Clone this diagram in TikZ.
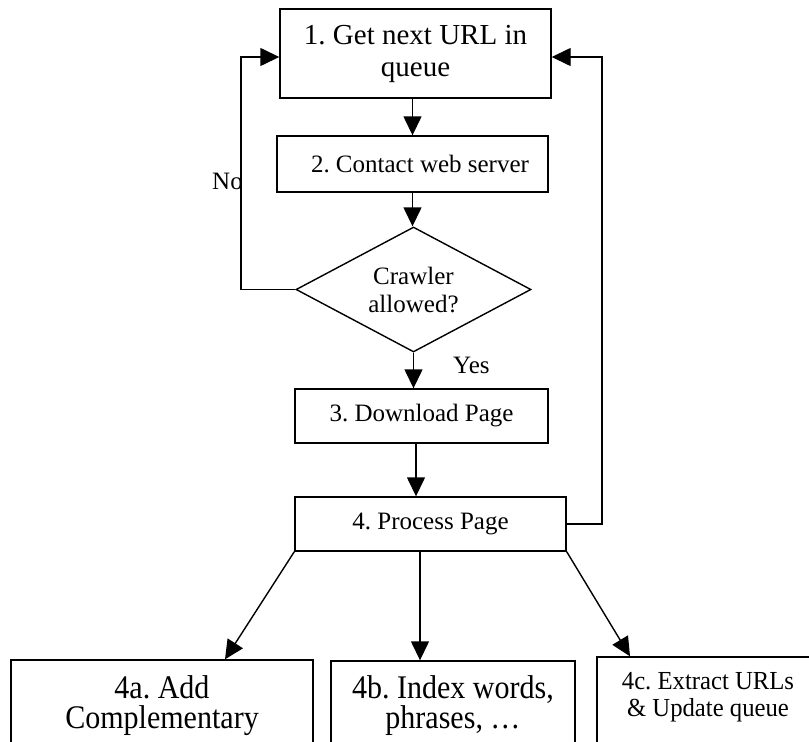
\documentclass[tikz,border=0pt]{standalone}
\usepackage{fontspec}
\setmainfont{Liberation Serif}
\newfontfamily\condA[FakeStretch=0.91]{Liberation Serif}
\newfontfamily\condC[FakeStretch=0.95]{Liberation Serif}
\usetikzlibrary{arrows.meta,shapes.geometric}
\frenchspacing
\begin{document}
\begin{tikzpicture}[x=1pt,y=-1pt,
  box/.style={draw, line width=1.4pt, rectangle, inner sep=0pt, align=center},
  arr/.style={line width=1.4pt, -{Triangle[length=19pt,width=18pt]}},
  txt/.style={inner sep=0pt, align=center},
  fmid/.style={font=\fontsize{25}{28}\selectfont}]
\useasboundingbox (0,0) rectangle (809,742);

\node[box, minimum width=271pt, minimum height=89pt, font=\fontsize{29}{32}\selectfont] (b1) at (415.5,53.5) {1. Get next URL in\\queue};
\node[box, fmid, minimum width=271pt, minimum height=56pt] (b2) at (412.5,164) {\hspace*{15pt}2. Contact web server};
\node[diamond, draw, line width=1.4pt, inner sep=0pt, aspect=1.88, minimum width=235pt, minimum height=125pt, align=center, fmid] (dia) at (413.5,289.5) {Crawler\\allowed?};
\node[box, fmid, minimum width=253pt, minimum height=54pt] (b3) at (421.5,416) {3. Download Page};
\node[box, fmid, minimum width=271pt, minimum height=54pt] (b4) at (430.5,524) {4. Process Page};

\node[box, minimum width=302pt, minimum height=90pt] (b4a) at (162,705) {};
\node[box, minimum width=244pt, minimum height=89pt] (b4b) at (453,705.5) {};
\node[box, minimum width=222pt, minimum height=93pt] (b4c) at (708,703.5) {};

\node[txt, font=\condA\fontsize{33}{30}\selectfont] (t4a) at (162,705.3) {4a. Add\\Complementary};
\node[txt, font=\condA\fontsize{33}{30}\selectfont] (t4b) at (453,705.3) {4b. Index words,\\phrases, …};
\node[txt, font=\condC\fontsize{26}{27}\selectfont] (t4c) at (708,697.5) {4c. Extract URLs\\\& Update queue};

\node[txt, fmid, anchor=base west] (no) at (212,189) {No};
\node[txt, fmid, anchor=base west] (yes) at (453,373) {Yes};

\coordinate (cl) at (241,57);
\coordinate (cr) at (602,57);
\coordinate (m34) at ([xshift=-5.5pt]b3.south);
\coordinate (m4) at ([xshift=-10.5pt]b4.south);

\draw[arr] (b1.south -| b2.north) -- (b2.north);
\draw[arr] (b2.south) -- (b2.south |- dia.north);
\draw[arr] (dia.south) -- (dia.south |- b3.north);
\draw[arr] (m34) -- (m34 |- b4.north);
\draw[arr] (dia.west) -| (cl) -- (cl -| b1.west);
\draw[arr] (b4.east) -| (cr) -- (cr -| b1.east);
\draw[arr] (b4.south west) -- ([xshift=63pt]b4a.north);
\draw[arr] (m4) -- (m4 |- b4b.north);
\draw[arr] (b4.south east) -- ([xshift=-78pt]b4c.north);
\end{tikzpicture}
\end{document}
